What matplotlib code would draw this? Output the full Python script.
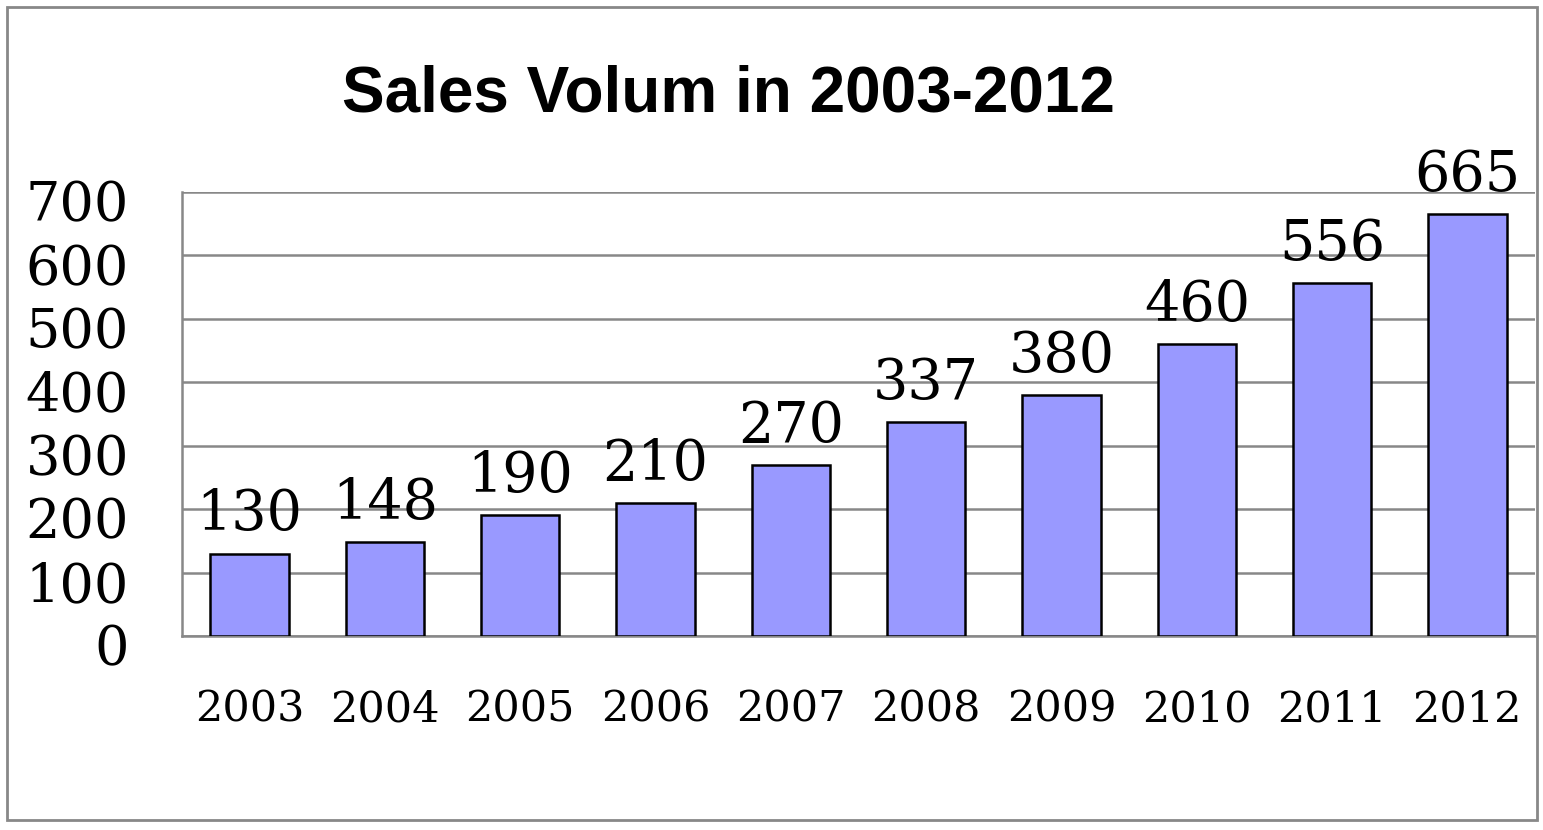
import matplotlib
matplotlib.use("Agg")
import matplotlib.pyplot as plt
import matplotlib.transforms as mtransforms
from matplotlib.patches import Rectangle

years = ["2003", "2004", "2005", "2006", "2007", "2008", "2009", "2010", "2011", "2012"]
sales = [130, 148, 190, 210, 270, 337, 380, 460, 556, 665]
yticks = [0, 100, 200, 300, 400, 500, 600, 700]
title = "Sales Volum in 2003-2012"

W, H, DPI = 1543, 830, 100
fig = plt.figure(figsize=(W / DPI, H / DPI), dpi=DPI)
fig.patch.set_facecolor("white")

# plot area in pixels: left 182, right 1535, top 192, bottom 636
ax = fig.add_axes([182 / W, 1 - 636 / H, (1535 - 182) / W, (636 - 192) / H])

x = list(range(len(years)))
bars = ax.bar(x, sales, width=0.58, color="#9999FF", edgecolor="black", linewidth=1.8, zorder=3)

ax.set_xlim(-0.5, len(years) - 0.5)
ax.set_ylim(0, 700)
ax.set_yticks(yticks)
ax.set_yticklabels([str(v) for v in yticks], fontfamily="DejaVu Serif", fontsize=39)
ax.set_xticks(x)
ax.set_xticklabels(years, fontfamily="DejaVu Serif", fontsize=31)
ax.tick_params(axis="y", length=0, pad=38)
ax.tick_params(axis="x", length=0, pad=38)

# shift y tick labels slightly down as in reference
offset = mtransforms.ScaledTranslation(0, -9 / DPI, fig.dpi_scale_trans)
for lab in ax.get_yticklabels():
    lab.set_transform(lab.get_transform() + offset)

ax.grid(axis="y", color="#888888", linewidth=1.8, zorder=0)
for side in ["top", "right"]:
    ax.spines[side].set_visible(False)
for side in ["left", "bottom"]:
    ax.spines[side].set_color("#888888")
    ax.spines[side].set_linewidth(1.8)

for xi, v in zip(x, sales):
    ax.annotate(str(v), (xi, v), xytext=(0, 8), textcoords="offset points",
                ha="center", va="bottom", fontfamily="DejaVu Serif", fontsize=40,
                annotation_clip=False)

fig.text(728 / W, 1 - 94 / H, title, ha="center", va="center",
         fontfamily="Liberation Sans", fontweight="bold", fontsize=46)

fig.patches.append(Rectangle((7 / W, 1 - 820 / H), (1537 - 7) / W, (820 - 7) / H,
                             transform=fig.transFigure, fill=False,
                             edgecolor="#888888", linewidth=2))

fig.savefig("out.png", dpi=DPI)
